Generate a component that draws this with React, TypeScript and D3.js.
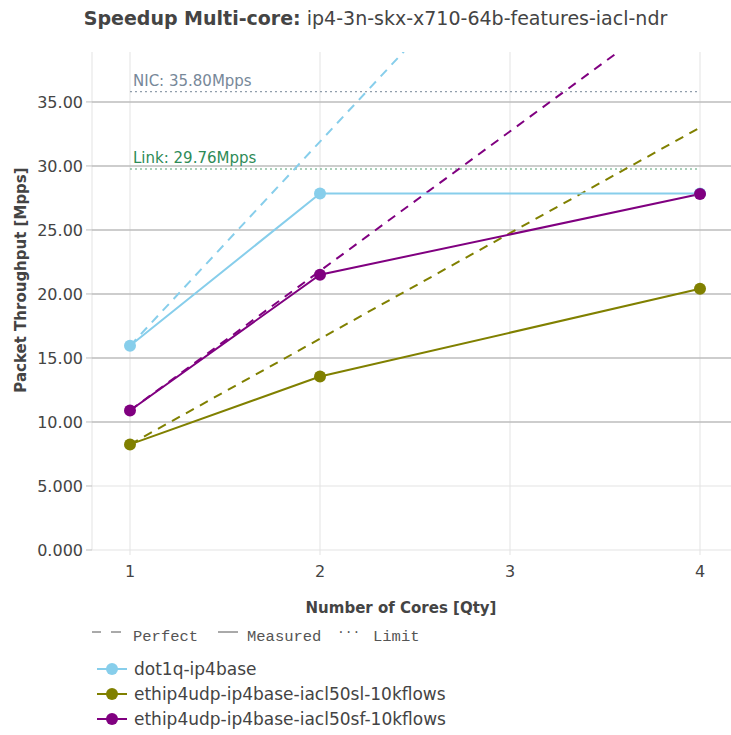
import React from "react";
import * as d3 from "d3";

const cores = [1, 2, 4];
const seriesNames = ["dot1q-ip4base", "ethip4udp-ip4base-iacl50sl-10kflows", "ethip4udp-ip4base-iacl50sf-10kflows"];
const seriesColors = ["#87CEEB", "#808000", "#800080"];
const dot1qValues = [15.95, 27.85, 27.85];
const iacl50slValues = [8.25, 13.55, 20.4];
const iacl50sfValues = [10.9, 21.5, 27.8];
const measured = [dot1qValues, iacl50slValues, iacl50sfValues];
const perfectCores = [1, 4];
const limitNames = ["NIC: 35.80Mpps", "Link: 29.76Mpps"];
const limitValues = [35.8, 29.76];
const limitColors = ["#778899", "#2E8B57"];
const yTicks = [0, 5, 10, 15, 20, 25, 30, 35];
const yTickLabels = ["0.000", "5.000", "10.00", "15.00", "20.00", "25.00", "30.00", "35.00"];
const xTicks = [1, 2, 3, 4];

const W = 731, H = 735;
const left = 92, right = 738, top = 52, bottom = 550;

export default function App() {
  const x = d3.scaleLinear().domain([0.8, 4.2]).range([left, right]);
  const y = d3.scaleLinear().domain([0, 38.9]).range([bottom, top]);
  const line = d3.line<[number, number]>().x(d => x(d[0])).y(d => y(d[1]));
  const font = "'DejaVu Sans', sans-serif";
  return (
    <svg width={W} height={H} style={{ position: "absolute", left: 0, top: 0, background: "#fff" }} fontFamily={font}>
      <defs>
        <clipPath id="plotclip"><rect x={left} y={top} width={right - left} height={bottom - top} /></clipPath>
      </defs>
      {/* vertical grid */}
      {xTicks.map(t => (
        <line key={"xg" + t} x1={x(t)} x2={x(t)} y1={top} y2={bottom + 5} stroke="#e3e3e3" strokeWidth={1} />
      ))}
      <line x1={left} x2={left} y1={top} y2={bottom} stroke="#e3e3e3" strokeWidth={1} />
      {/* horizontal grid */}
      {yTicks.map(t => (
        <line key={"yg" + t} x1={left} x2={right} y1={y(t)} y2={y(t)}
          stroke={t >= 10 ? "#bdbdbd" : "#e3e3e3"} strokeWidth={t >= 10 ? 1.5 : 1} />
      ))}
      {yTicks.map((t, i) => (
        <g key={"yt" + t}>
          <line x1={left - 6} x2={left} y1={y(t)} y2={y(t)} stroke="#bdbdbd" strokeWidth={1} />
          <text x={left - 9} y={y(t)} dy="0.35em" textAnchor="end" fontSize={16} fill="#444">{yTickLabels[i]}</text>
        </g>
      ))}
      {xTicks.map(t => (
        <text key={"xt" + t} x={x(t)} y={577} textAnchor="middle" fontSize={16} fill="#444">{t}</text>
      ))}
      {/* limits */}
      {limitValues.map((v, i) => (
        <g key={"lim" + i}>
          <line x1={x(1)} x2={x(4)} y1={y(v)} y2={y(v)} stroke={limitColors[i]} strokeWidth={1.2} strokeDasharray="2,3" opacity={0.8} />
          <text x={x(1) + 3} y={y(v) - 6} fontSize={15} fill={limitColors[i]}>{limitNames[i]}</text>
        </g>
      ))}
      <g clipPath="url(#plotclip)">
        {measured.map((vals, i) => (
          <path key={"perf" + i} d={line(perfectCores.map(c => [c, vals[0] * c]) as [number, number][]) || ""}
            fill="none" stroke={seriesColors[i]} strokeWidth={2} strokeDasharray="9,7" />
        ))}
        {measured.map((vals, i) => (
          <path key={"meas" + i} d={line(cores.map((c, j) => [c, vals[j]]) as [number, number][]) || ""}
            fill="none" stroke={seriesColors[i]} strokeWidth={2} />
        ))}
        {measured.map((vals, i) => cores.map((c, j) => (
          <circle key={"pt" + i + "-" + j} cx={x(c)} cy={y(vals[j])} r={6} fill={seriesColors[i]} />
        )))}
      </g>
      {/* titles */}
      <text x={375.5} y={25} textAnchor="middle" fontSize={19} fill="#444">
        <tspan fontWeight="bold">Speedup Multi-core:</tspan> ip4-3n-skx-x710-64b-features-iacl-ndr
      </text>
      <text x={401} y={613} textAnchor="middle" fontSize={15} fontWeight="bold" fill="#444">Number of Cores [Qty]</text>
      <text transform={`translate(26,280) rotate(-90)`} textAnchor="middle" fontSize={15} fontWeight="bold" fill="#444">Packet Throughput [Mpps]</text>
      {/* line-style legend */}
      <g stroke="#555" strokeWidth={1}>
        <line x1={92} x2={101} y1={632} y2={632} />
        <line x1={111} x2={121} y1={632} y2={632} />
        <line x1={218} x2={238} y1={632} y2={632} />
      </g>
      <g fontFamily="'Liberation Mono', monospace" fontSize={15.5} fill="#555">
        <text x={133} y={641}>Perfect</text>
        <text x={247} y={641}>Measured</text>
        <text x={337} y={633} fontSize={13}>...</text>
        <text x={373} y={641}>Limit</text>
      </g>
      {/* series legend */}
      {seriesNames.map((n, i) => (
        <g key={"leg" + i} transform={`translate(0,${669 + i * 25})`}>
          <line x1={97} x2={127} y1={0} y2={0} stroke={seriesColors[i]} strokeWidth={2} />
          <circle cx={112} cy={0} r={6} fill={seriesColors[i]} />
          <text x={134} y={0} dy="0.35em" fontSize={17} fill="#444">{n}</text>
        </g>
      ))}
    </svg>
  );
}
